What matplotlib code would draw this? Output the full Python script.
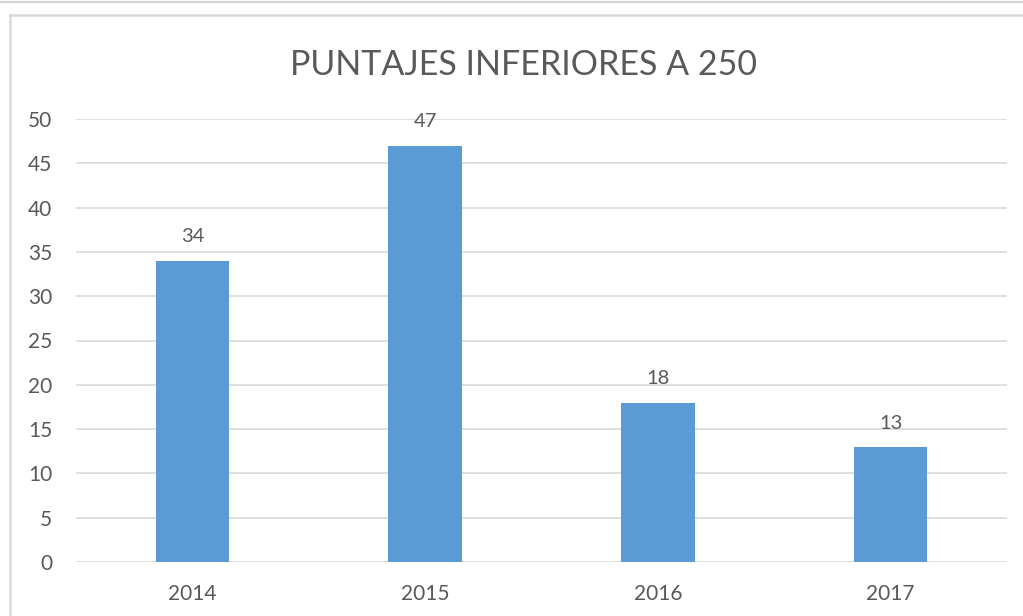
import matplotlib
matplotlib.use('Agg')
import matplotlib.pyplot as plt
from matplotlib.lines import Line2D
import numpy as np

years = ['2014', '2015', '2016', '2017']
counts = [34, 47, 18, 13]
title = 'PUNTAJES INFERIORES A 250'

bar_color = '#5b9bd5'
text_color = '#595959'
grid_color = '#d9d9d9'

plt.rcParams['font.family'] = ['Lato', 'DejaVu Sans']

fig = plt.figure(figsize=(10.23, 6.16), dpi=100)
W, H = 1023, 616

# outer frame lines (screenshot edge + chart border)
fig.add_artist(Line2D([0, 1], [1 - 1.5 / H, 1 - 1.5 / H], color='#d4d4d4', lw=1.5))
fig.add_artist(Line2D([10 / W, 1], [1 - 15 / H, 1 - 15 / H], color=grid_color, lw=1.8))
fig.add_artist(Line2D([10 / W, 10 / W], [0, 1 - 15 / H], color=grid_color, lw=1.8))

ax = fig.add_axes([76 / W, (H - 562) / H, (1007 - 76) / W, (562 - 119) / H])
x = np.arange(len(years))
ax.bar(x, counts, width=0.315, color=bar_color, zorder=3)
for xi, v in zip(x, counts):
    ax.annotate(str(v), (xi, v), xytext=(0, 11), textcoords='offset points',
                ha='center', va='bottom', fontsize=14.5, color=text_color)

ax.set_xlim(-0.5, len(years) - 0.5)
ax.set_ylim(0, 50)
ax.set_yticks(range(0, 51, 5))
ax.set_xticks(x)
ax.set_xticklabels(years)
ax.tick_params(axis='both', length=0, labelsize=15, labelcolor=text_color)
ax.tick_params(axis='y', pad=17)
ax.tick_params(axis='x', pad=16)
ax.grid(axis='y', color=grid_color, lw=1.2, zorder=0)
for s in ax.spines.values():
    s.set_visible(False)

fig.text(523 / W, 1 - 65 / H, title, ha='center', va='center', fontsize=24.5, color=text_color)

fig.savefig('out.png', dpi=100)
